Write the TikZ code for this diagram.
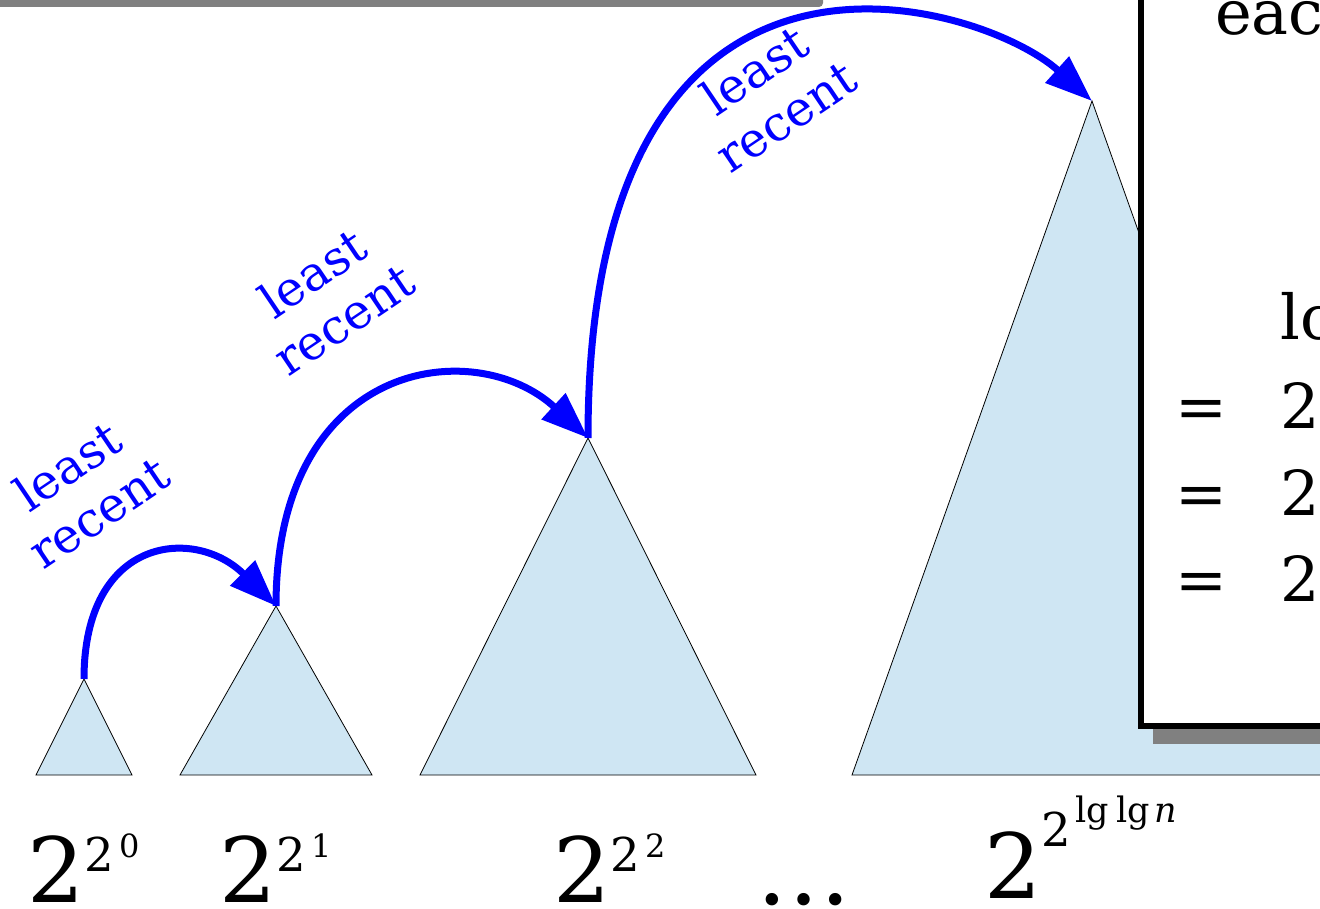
\documentclass[tikz,border=0pt]{standalone}
\usepackage{fontspec}
\setmainfont{DejaVu Serif}
\usetikzlibrary{arrows.meta,shadows}
\definecolor{cTree}{HTML}{CFE6F3}
\definecolor{cLink}{HTML}{0000FF}
\definecolor{cShade}{HTML}{808080}
\newcommand{\bigtwo}[2]{{\fontsize{90}{90}\selectfont 2}\raisebox{#1}{\fontsize{46.6}{50}\selectfont 2\kern#2}}
\newcommand{\smallexp}[2]{\raisebox{#1}{\fontsize{32}{34}\selectfont #2}}
\tikzset{
  tree/.style={draw=black, line width=0.8pt, fill=cTree, line join=miter},
  recent/.style={draw=cLink, line width=7pt, -{Triangle[length=47pt,width=34pt]}},
  lbl/.style={text=cLink, font=\fontsize{48}{56}\selectfont, align=center, rotate=34, inner sep=0pt},
  tower/.style={anchor=base west, inner sep=0pt},
  boxtxt/.style={anchor=base west, inner sep=0pt, font=\fontsize{62}{62}\selectfont},
}

\begin{document}
\begin{tikzpicture}[x=1pt,y=-1pt]
\useasboundingbox (0,0) rectangle (1320,909);
\clip (0,0) rectangle (1320,909);
% shade of the box above the picture
\fill[cShade, rounded corners=4pt] (-20,-60) rectangle (823,7);
% trees
\coordinate (t1) at (84,679);
\coordinate (t2) at (276,606);
\coordinate (t3) at (588,438);
\coordinate (t4) at (1092,101);
\draw[tree] (t1) -- ++(48,96) -- ++(-96,0) -- cycle;
\draw[tree] (t2) -- ++(96,169) -- ++(-192,0) -- cycle;
\draw[tree] (t3) -- ++(168,337) -- ++(-336,0) -- cycle;
\draw[tree] (t4) -- ++(240,674) -- ++(-480,0) -- cycle;
% links
\draw[recent] (t1) .. controls +(0,-143) and +(-81,-80) .. (t2);
\draw[recent] (t2) .. controls +(0,-247) and +(-113,-104) .. (t3);
\draw[recent] (t3) .. controls +(0,-560) and +(-110,-99) .. (t4);
\node[lbl] (l1) at (83,489) {least\\recent};
\node[lbl] (l2) at (328,296) {least\\recent};
\node[lbl] (l3) at (770,93) {least\\recent};
% sizes
\node[tower] (p0) at (27,902) {\bigtwo{31pt}{5pt\smallexp{14pt}{0}}};
\node[tower] (p1) at (219,902) {\bigtwo{31pt}{5pt\smallexp{14pt}{1}}};
\node[tower] (p2) at (553,902) {\bigtwo{31pt}{5pt\smallexp{14pt}{2}}};
\node[tower, font=\fontsize{95}{95}\selectfont] (dots) at (756,904) {…};
\node[tower] (pn) at (984,898) {\bigtwo{52pt}{4pt\raisebox{24pt}{\fontsize{35}{38}\selectfont lg\hspace{8pt}lg\hspace{4pt}\textit{n}}}};
% box on the right
\node[draw, line width=6.5pt, fill=white, anchor=south west, outer sep=0pt, minimum width=400pt, minimum height=900pt,
  drop shadow={shadow xshift=12pt, shadow yshift=-18pt, fill=cShade, opacity=1}] (info) at (1141,726) {};
\node[boxtxt] (each) at (1215,35) {eac};
\node[boxtxt] (lo) at (1280,340) {lo};
\foreach \yy [count=\i] in {428,515,601} {
  \node[boxtxt] (eq\i) at (1175,\yy) {=};
  \node[boxtxt] (two\i) at (1280,\yy) {2};
}
\end{tikzpicture}
\end{document}
